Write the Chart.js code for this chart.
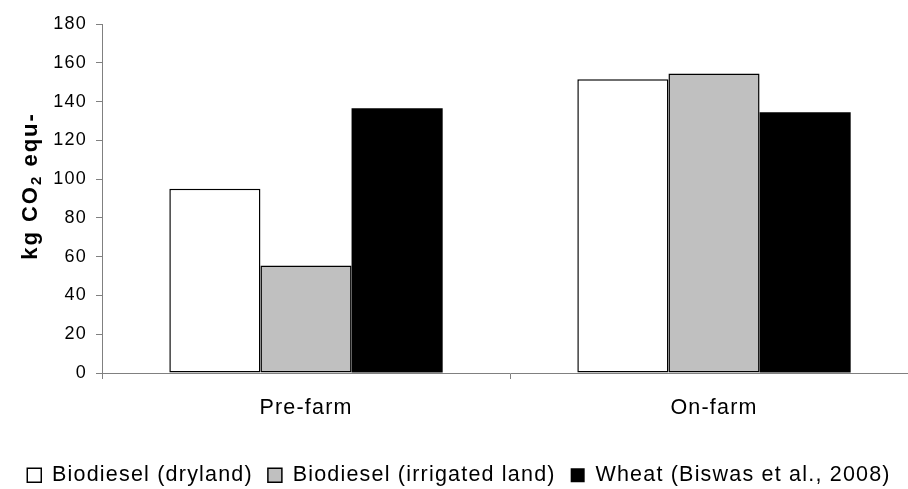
<!DOCTYPE html>
<html>
<head>
<meta charset="utf-8">
<script src="https://cdn.jsdelivr.net/npm/chart.js"></script>
<style>
  html, body { margin: 0; padding: 0; background: #fff; overflow: hidden; }
  #wrap { width: 920px; height: 500px; }
</style>
</head>
<body>
<div id="wrap"><canvas id="co2Chart" width="920" height="500"></canvas></div>
<script>
// categories and series
const categories = ['Pre-farm', 'On-farm'];
const seriesNames = ['Biodiesel (dryland)', 'Biodiesel (irrigated land)', 'Wheat (Biswas et al., 2008)'];
const drylandValues = [95, 151.5];
const irrigatedValues = [55.5, 154.5];
const wheatValues = [136.5, 134.5];
const yTickLabels = [0, 20, 40, 60, 80, 100, 120, 140, 160, 180];

const FONT = "'Liberation Sans', Arial, sans-serif";

// the original text is a bit wider than Arial, so add some letter spacing
const spacingPlugin = {
    id: 'spacing',
    beforeLayout(chart) { chart.ctx.letterSpacing = '1.2px'; },
    beforeDraw(chart) { chart.ctx.letterSpacing = '1.2px'; }
};

// y title with a real subscript "2"
const yTitlePlugin = {
    id: 'yTitle',
    afterDraw(chart) {
        const ctx = chart.ctx;
        const main = 'bold 22px ' + FONT;
        const sub = 'bold 15px ' + FONT;
        ctx.save();
        ctx.letterSpacing = '2px';
        ctx.fillStyle = '#000';
        ctx.textBaseline = 'alphabetic';
        ctx.textAlign = 'left';
        ctx.font = main;
        const w1 = ctx.measureText('kg CO').width;
        const w3 = ctx.measureText(' equ-').width;
        ctx.font = sub;
        const w2 = ctx.measureText('2').width;
        const total = w1 + w2 + w3;
        ctx.translate(37, 186);
        ctx.rotate(-Math.PI / 2);
        let x = -total / 2;
        ctx.font = main;
        ctx.fillText('kg CO', x, 0);
        x += w1;
        ctx.font = sub;
        ctx.fillText('2', x, 4);
        x += w2;
        ctx.font = main;
        ctx.fillText(' equ-', x, 0);
        ctx.restore();
    }
};

const ctx = document.getElementById('co2Chart').getContext('2d');
new Chart(ctx, {
    type: 'bar',
    data: {
        labels: categories,
        datasets: [
            { label: seriesNames[0], data: drylandValues, backgroundColor: '#ffffff', borderColor: '#000000', borderWidth: 1.5, borderSkipped: false },
            { label: seriesNames[1], data: irrigatedValues, backgroundColor: '#c0c0c0', borderColor: '#000000', borderWidth: 1.5, borderSkipped: false },
            { label: seriesNames[2], data: wheatValues, backgroundColor: '#000000', borderColor: '#000000', borderWidth: 0 }
        ]
    },
    options: {
        responsive: false,
        animation: false,
        devicePixelRatio: 1,
        datasets: { bar: { categoryPercentage: 0.67, barPercentage: 1.0 } },
        layout: { padding: { left: 0, top: 24, right: 2, bottom: 4 } },
        plugins: {
            legend: {
                position: 'bottom',
                labels: {
                    color: '#000',
                    font: { size: 21.5, family: FONT },
                    boxWidth: 14,
                    boxHeight: 14,
                    padding: 15
                }
            },
            tooltip: { enabled: false }
        },
        scales: {
            x: {
                grid: { drawOnChartArea: false, offset: true, tickLength: 6, color: '#808080' },
                border: { color: '#808080' },
                ticks: { color: '#000', font: { size: 21.5, family: FONT }, padding: 16 },
                afterFit(scale) { scale.height = 76.5; }
            },
            y: {
                min: 0,
                max: 180,
                afterBuildTicks(scale) { scale.ticks = yTickLabels.map(v => ({ value: v })); },
                grid: { drawOnChartArea: false, tickLength: 6, color: '#808080' },
                border: { color: '#808080' },
                ticks: { color: '#000', font: { size: 18, family: FONT }, padding: 9 },
                afterFit(scale) { scale.width = 102; }
            }
        }
    },
    plugins: [spacingPlugin, yTitlePlugin]
});
</script>
</body>
</html>
